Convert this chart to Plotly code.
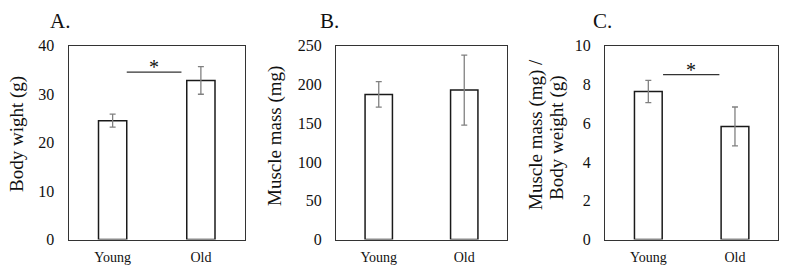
import plotly.graph_objects as go

W, H = 785, 272

categories = ["Young", "Old"]

body_weight = [24.5, 32.8]
body_weight_err = [1.35, 2.85]

muscle_mass = [187, 192.5]
muscle_mass_err = [16.5, 45]

ratio = [7.63, 5.83]
ratio_err = [0.57, 1.0]

y_ranges = [[0, 40], [0, 250], [0, 10]]
y_dticks = [10, 50, 2]
panel_labels = ["A.", "B.", "C."]

# significance markers (panels A and C)
sig_panels = [0, 2]
sig_x = [[0.16, 0.78], [0.17, 0.82]]
sig_y = [34.5, 8.5]
sig_star_y = [35.6, 8.75]

FONT = "Liberation Serif"

def px_x(p):
    return p / W

def px_y(p):
    return 1 - p / H

domains_x = [[px_x(68.5), px_x(245)], [px_x(336), px_x(507)], [px_x(605), px_x(778.3)]]
domain_y = [px_y(239.5), px_y(45.5)]

fig = go.Figure()
datasets = [(body_weight, body_weight_err), (muscle_mass, muscle_mass_err), (ratio, ratio_err)]

for i, (vals, errs) in enumerate(datasets):
    xa = "x" if i == 0 else f"x{i+1}"
    ya = "y" if i == 0 else f"y{i+1}"
    fig.add_trace(go.Bar(
        x=categories, y=vals, xaxis=xa, yaxis=ya,
        width=0.32,
        marker=dict(color="white", line=dict(color="#1a1a1a", width=1.5)),
        error_y=dict(type="data", array=errs, visible=True, color="#808080",
                     thickness=1.3, width=3),
        showlegend=False, hoverinfo="skip", cliponaxis=False,
    ))
    axis_common = dict(showline=True, mirror=True, linecolor="#333333", linewidth=1,
                       showgrid=False, zeroline=False, ticks="", automargin=False)
    fig.update_layout(**{
        ("xaxis" if i == 0 else f"xaxis{i+1}"): dict(
            domain=domains_x[i], anchor=ya, type="category",
            range=[-0.5, 1.5],
            tickfont=dict(family=FONT, size=14, color="#111111"),
            ticklabelstandoff=5,
            **axis_common),
        ("yaxis" if i == 0 else f"yaxis{i+1}"): dict(
            domain=domain_y, anchor=xa, range=y_ranges[i], dtick=y_dticks[i],
            tickfont=dict(family=FONT, size=16, color="#111111"),
            ticklabelstandoff=10,
            **axis_common),
    })

annotations = []
# panel labels
for lab, cx in zip(panel_labels, [60, 329, 602]):
    annotations.append(dict(text=lab, x=px_x(cx), y=px_y(21), xref="paper", yref="paper",
                            showarrow=False, xanchor="center", yanchor="middle",
                            font=dict(family=FONT, size=21, color="#111111")))

# y axis titles
ytitles = [("Body wight (g)", 17, 134), ("Muscle mass (mg)", 275, 136),
           ("Muscle mass (mg) /", 536, 135), ("Body weight (g)", 557, 138)]
for t, cx, cy in ytitles:
    annotations.append(dict(text=t, x=px_x(cx), y=px_y(cy), xref="paper", yref="paper",
                            showarrow=False, textangle=-90, xanchor="center", yanchor="middle",
                            font=dict(family=FONT, size=19, color="#111111")))

shapes = []
for k, p in enumerate(sig_panels):
    xa = "x" if p == 0 else f"x{p+1}"
    ya = "y" if p == 0 else f"y{p+1}"
    shapes.append(dict(type="line", xref=xa, yref=ya, x0=sig_x[k][0], x1=sig_x[k][1],
                       y0=sig_y[k], y1=sig_y[k], line=dict(color="#333333", width=1.3)))
    annotations.append(dict(text="*", xref=xa, yref=ya, x=(sig_x[k][0] + sig_x[k][1]) / 2,
                            y=sig_star_y[k], showarrow=False, xanchor="center", yanchor="middle",
                            font=dict(family=FONT, size=20, color="#111111")))

fig.update_layout(width=W, height=H, margin=dict(l=0, r=0, t=0, b=0, autoexpand=False),
                  plot_bgcolor="white", paper_bgcolor="white",
                  annotations=annotations, shapes=shapes, bargap=0)

fig.write_html("out.html", config={"displayModeBar": False, "staticPlot": True},
               post_script="document.body.style.margin='0';document.body.style.overflow='hidden';")
